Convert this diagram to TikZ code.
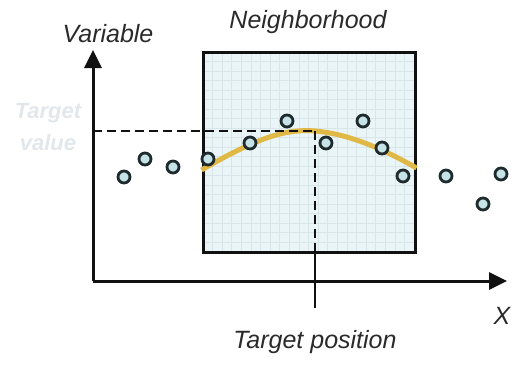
\documentclass[tikz,border=0pt]{standalone}
\usepackage{fontspec}
\setmainfont{Liberation Sans}
\usepackage{tikz}
\usetikzlibrary{arrows.meta, positioning, calc}
\usepackage{xcolor}
\definecolor{AxisBlack}{HTML}{111111}
\definecolor{GridFill}{HTML}{EAF5F7}
\definecolor{GridLine}{HTML}{D9E6E9}
\definecolor{DotFill}{HTML}{C6E4E8}
\definecolor{DotEdge}{HTML}{1E2A2C}
\definecolor{FitGold}{HTML}{E0B846}
\definecolor{GhostText}{HTML}{E2E7EC}
\definecolor{LabelGrey}{HTML}{2A2A2A}

\begin{document}
\begin{tikzpicture}[x=1pt, y=-1pt]
    \tikzstyle{lbl} = [text=LabelGrey, font=\fontsize{25}{29}\selectfont\itshape, inner sep=0pt]
    \tikzstyle{sample} = [circle, draw=DotEdge, fill=DotFill, line width=2.8pt, minimum size=12pt, inner sep=0pt]
    \tikzstyle{axis} = [AxisBlack, line width=3pt, -{Triangle[length=18pt, width=17pt]}]
    \tikzstyle{guide} = [AxisBlack, line width=2.8pt, dash pattern=on 9pt off 5pt]

    \useasboundingbox (0,0) rectangle (526,369);

    \coordinate (origin) at (93,281);
    \coordinate (ytip) at (93,50);
    \coordinate (xtip) at (507,281);
    \coordinate (peak) at (315,131);
    \coordinate (yval) at (93,131);
    \coordinate (tickend) at (315,308);

    \fill [GridFill] (203,52) rectangle (415,252);
    \foreach \gx in {212.6,222.2,...,410} \draw [GridLine, line width=0.7pt] (\gx,52) -- (\gx,252);
    \foreach \gy in {61.5,71,...,250} \draw [GridLine, line width=0.7pt] (203,\gy) -- (415,\gy);
    \node [draw=AxisBlack, line width=3pt, minimum width=212pt, minimum height=200pt, inner sep=0pt] (hood) at (309,152) {};

    \draw [FitGold, line width=5pt] (hood.west |- 0,170) .. controls (250,142) and (282,128) .. (peak) .. controls (350,134) and (385,150) .. (hood.east |- 0,168);

    \draw [guide] (yval) -- (peak);
    \draw [guide] (peak) -- (hood.south -| peak);
    \draw [AxisBlack, line width=2.8pt] (hood.south -| peak) -- (tickend);

    \draw [axis] (origin) -- (ytip);
    \draw [axis] (origin) -- (xtip);

    \node [sample] (p1) at (124,177) {};
    \node [sample] (p2) at (145,159) {};
    \node [sample] (p3) at (173,167) {};
    \node [sample] (p4) at (208,159) {};
    \node [sample] (p5) at (250,143) {};
    \node [sample] (p6) at (287,121) {};
    \node [sample] (p7) at (326,143) {};
    \node [sample] (p8) at (363,121) {};
    \node [sample] (p9) at (382,148) {};
    \node [sample] (p10) at (403,176) {};
    \node [sample] (p11) at (446,176) {};
    \node [sample] (p12) at (483,204) {};
    \node [sample] (p13) at (501,174) {};

    \node [lbl] (yname) at (108,34) {Variable};
    \node [lbl] (hoodname) at (308,22) {Neighborhood};
    \node [lbl] (xname) at (502,316) {X};
    \node [lbl, below=22pt of tickend] (posname) {Target position};
    \node [text=GhostText, font=\fontsize{22}{32}\selectfont\bfseries\itshape, align=center, inner sep=0pt] (valname) at (48,127) {Target\\value};
\end{tikzpicture}
\end{document}
